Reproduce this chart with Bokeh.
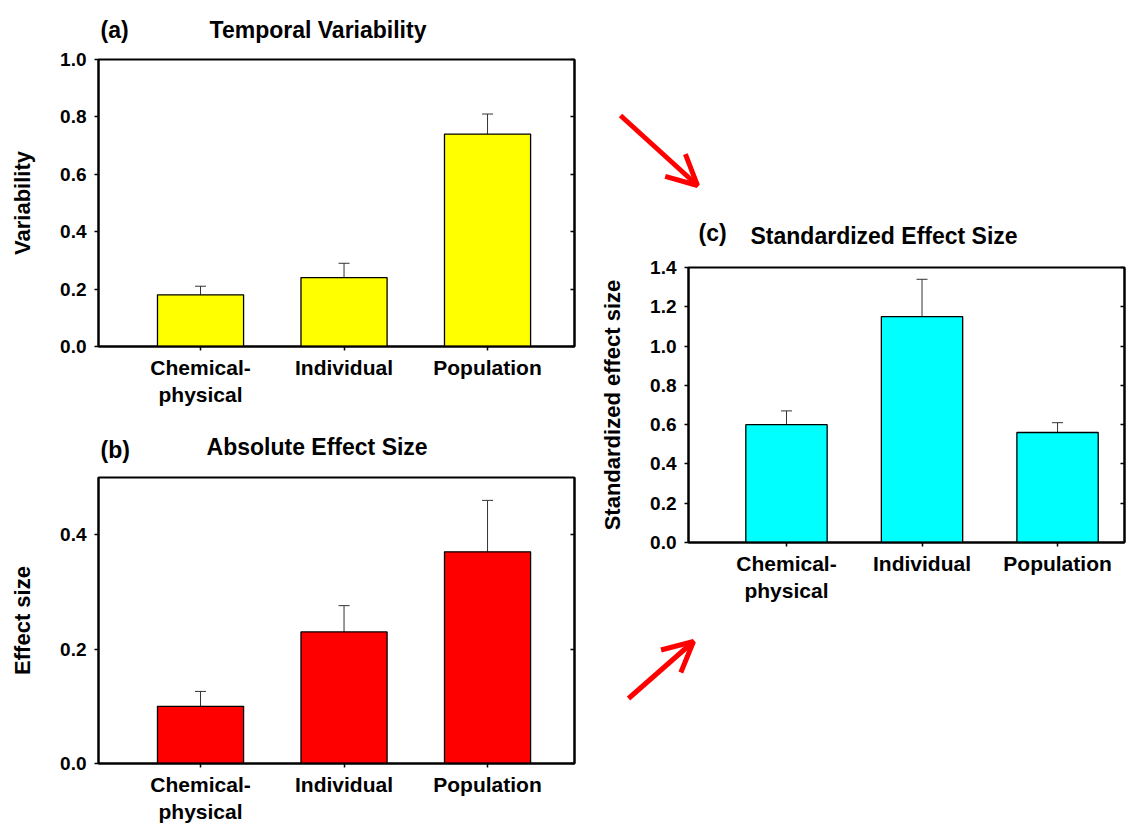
from bokeh.plotting import figure
from bokeh.models import (Range1d, FixedTicker, LinearAxis, Whisker, TeeHead,
                          ColumnDataSource, Arrow, OpenHead, NumeralTickFormatter,
                          CustomJSTickFormatter)
from bokeh.core.properties import value
from bokeh.layouts import row, column
from bokeh.embed import file_html
from bokeh.resources import INLINE

# ---------------- data ----------------
categories = ["Chemical-\nphysical", "Individual", "Population"]
positions = [1, 2, 3]

variability = [0.18, 0.24, 0.74]
variability_err = [0.03, 0.05, 0.07]

abs_effect = [0.10, 0.23, 0.37]
abs_effect_err = [0.026, 0.046, 0.09]

std_effect = [0.60, 1.15, 0.56]
std_effect_err = [0.07, 0.19, 0.05]

yticks_a = [0.0, 0.2, 0.4, 0.6, 0.8, 1.0]
yticks_b = [0.0, 0.2, 0.4]
yticks_c = [0.0, 0.2, 0.4, 0.6, 0.8, 1.0, 1.2, 1.4]

FONT = "Liberation Sans"
TICK_FS = "19px"
CAT_FS = "21px"
AXL_FS = "22px"
TITLE_FS = "23px"


def panel(width, height, borders, xr, yr, yticks, values, errs, color, ylabel):
    left, right, top, bottom = borders
    p = figure(width=width, height=height, x_range=Range1d(*xr), y_range=Range1d(*yr),
               output_backend="svg", toolbar_location=None,
               min_border_left=left, min_border_right=right,
               min_border_top=top, min_border_bottom=bottom)
    p.grid.visible = False
    p.outline_line_color = "black"
    p.outline_line_width = 2
    p.background_fill_color = "white"
    p.border_fill_color = "white"

    src = ColumnDataSource(dict(x=positions, top=values,
                                upper=[v + e for v, e in zip(values, errs)]))
    p.vbar(x="x", top="top", width=0.6, source=src, fill_color=color,
           line_color="black", line_width=1.3)
    w = Whisker(source=src, base="x", lower="top", upper="upper", dimension="height",
                line_color="#333333", line_width=1,
                upper_head=TeeHead(size=11, line_color="#333333", line_width=1),
                lower_head=None)
    p.add_layout(w)

    xa = p.xaxis[0]
    xa.ticker = FixedTicker(ticks=positions)
    xa.major_label_overrides = {pos: c for pos, c in zip(positions, categories)}
    xa.major_label_text_font = FONT
    xa.major_label_text_font_style = "bold"
    xa.major_label_text_font_size = CAT_FS
    xa.major_label_text_color = "black"
    xa.major_label_standoff = 5
    xa.major_tick_out = 4
    xa.major_tick_in = 0
    xa.major_tick_line_width = 1.5
    xa.minor_tick_line_color = None
    xa.axis_line_width = 2

    ya = p.yaxis[0]
    ya.ticker = FixedTicker(ticks=yticks)
    ya.formatter = NumeralTickFormatter(format="0.0")
    ya.major_label_text_font = FONT
    ya.major_label_text_font_style = "bold"
    ya.major_label_text_font_size = TICK_FS
    ya.major_label_text_color = "black"
    ya.major_label_standoff = 8
    ya.major_tick_out = 4
    ya.major_tick_in = 0
    ya.major_tick_line_width = 1.5
    ya.minor_tick_line_color = None
    ya.axis_line_width = 2
    ya.axis_label = ylabel
    ya.axis_label_text_font = FONT
    ya.axis_label_text_font_style = "bold"
    ya.axis_label_text_font_size = AXL_FS
    ya.axis_label_text_color = "black"
    ya.axis_label_standoff = 22

    ra = LinearAxis(ticker=FixedTicker(ticks=yticks),
                    formatter=CustomJSTickFormatter(code="return ''"),
                    major_label_standoff=0, major_tick_in=4, major_tick_out=0,
                    major_tick_line_width=1.5, minor_tick_line_color=None,
                    axis_line_width=2)
    p.add_layout(ra, "right")
    return p


def strip(width, height, borders, xr):
    """Blank strip (no axes) for panel titles and arrows; y in pixels from its top."""
    left, right = borders
    f = figure(width=width, height=height, x_range=Range1d(*xr), y_range=Range1d(height, 0),
               output_backend="svg", toolbar_location=None,
               x_axis_type=None, y_axis_type=None, min_border=0,
               min_border_left=left, min_border_right=right)
    f.grid.visible = False
    f.outline_line_color = None
    return f


def add_titles(f, xs, ys, texts):
    f.text(x=xs, y=ys, text=texts, text_font=value(FONT), text_font_style="bold",
           text_font_size=value(TITLE_FS), text_baseline="alphabetic", text_align="left",
           text_color="black")


XR_AB = (0.289, 3.606)
XR_C = (0.277, 3.494)

# ---------- left column ----------
ta = strip(580, 47, (98, 6), XR_AB)
add_titles(ta, [0.303, 1.063], [29, 29], ["(a)", "Temporal Variability"])
pa = panel(580, 368, (98, 6, 12, 69), XR_AB, (0.0, 1.0), yticks_a,
           variability, variability_err, "#FFFF00", "Variability")

tb = strip(580, 58, (98, 6), XR_AB)
add_titles(tb, [0.303, 1.042], [34, 31], ["(b)", "Absolute Effect Size"])
pb = panel(580, 353, (98, 6, 4, 63), XR_AB, (0.0, 0.5), yticks_b,
           abs_effect, abs_effect_err, "#FF0000", "Effect size")

# ---------- right column ----------
arrow_down = dict(x_start=40, y_start=115, x_end=117, y_end=185)
arrow_up = dict(x_start=48, y_start=78, x_end=113, y_end=21)

tc = strip(546, 255, (0, 0), (0, 546))
tc.add_layout(Arrow(end=OpenHead(size=30, line_color="red", line_width=5),
                    line_color="red", line_width=5, **arrow_down))
add_titles(tc, [118, 170], [232, 235], ["(c)", "Standardized Effect Size"])

pc = panel(546, 365, (108, 2, 12, 78), XR_C, (0.0, 1.4), yticks_c,
           std_effect, std_effect_err, "#00FFFF", "Standardized effect size")

bc = strip(546, 206, (0, 0), (0, 546))
bc.add_layout(Arrow(end=OpenHead(size=30, line_color="red", line_width=5),
                    line_color="red", line_width=5, **arrow_up))

layout = row(column(ta, pa, tb, pb), column(row(tc), row(pc), row(bc)))

open("out.html", "w").write(file_html(layout, INLINE))
